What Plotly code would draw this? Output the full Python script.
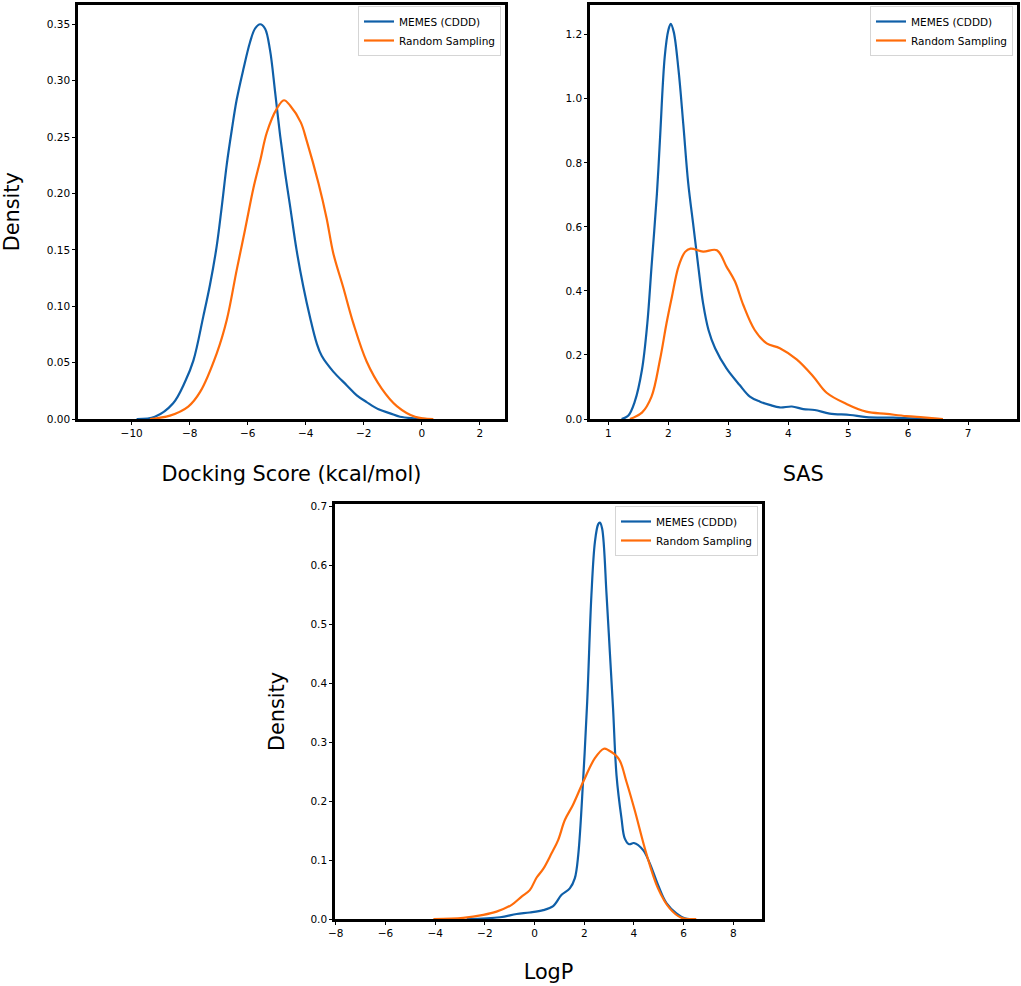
import plotly.graph_objects as go

W, H = 1021, 986
FONT = "DejaVu Sans"
BLUE = "#0f5fa8"
ORANGE = "#ff6c0a"
SERIES = ["MEMES (CDDD)", "Random Sampling"]

dock_blue_x = [-9.83,-9.2,-8.57,-8.16,-7.87,-7.53,-7.3,-7.07,-6.9,-6.72,-6.55,-6.38,-6.15,-5.92,-5.75,-5.57,-5.4,-5.23,-5.06,-4.89,-4.71,-4.54,-4.31,-4.08,-3.85,-3.62,-3.45,-3.05,-2.59,-2.24,-1.9,-1.49,-1.09,-0.75,-0.29,0.17]
dock_blue_y = [0,0.002,0.014,0.033,0.052,0.091,0.119,0.153,0.187,0.226,0.256,0.283,0.31,0.334,0.346,0.35,0.346,0.327,0.291,0.253,0.218,0.189,0.149,0.117,0.09,0.067,0.056,0.042,0.03,0.021,0.015,0.0086,0.005,0.002,0.0006,0]
dock_orange_x = [-9.37,-8.68,-8.05,-7.64,-7.07,-6.72,-6.38,-6.09,-5.8,-5.57,-5.34,-5.0,-4.75,-4.54,-4.17,-3.97,-3.56,-3.28,-3.05,-2.71,-2.36,-1.9,-1.38,-0.86,-0.23,0.4]
dock_orange_y = [0,0.003,0.011,0.024,0.058,0.088,0.132,0.168,0.205,0.229,0.254,0.275,0.2826,0.278,0.263,0.247,0.209,0.178,0.147,0.117,0.085,0.051,0.027,0.0115,0.002,0]

sas_blue_x = [1.22,1.33,1.44,1.56,1.65,1.72,1.81,1.86,1.94,2.0,2.04,2.09,2.17,2.25,2.33,2.42,2.5,2.58,2.67,2.78,2.97,3.19,3.36,3.53,3.69,3.86,4.06,4.25,4.44,4.69,5.03,5.3,5.75,6.19,6.53]
sas_blue_y = [0,0.01,0.054,0.153,0.299,0.476,0.704,0.87,1.131,1.214,1.234,1.209,1.09,0.92,0.74,0.6,0.476,0.361,0.278,0.221,0.158,0.106,0.07,0.054,0.044,0.036,0.039,0.031,0.028,0.017,0.0125,0.006,0.004,0.001,0]
sas_orange_x = [1.36,1.56,1.72,1.86,1.97,2.06,2.17,2.28,2.37,2.58,2.81,2.97,3.11,3.25,3.44,3.64,3.86,4.14,4.42,4.64,4.97,5.3,5.64,5.97,6.25,6.58]
sas_orange_y = [0,0.02,0.07,0.184,0.299,0.382,0.476,0.522,0.532,0.523,0.527,0.476,0.43,0.356,0.278,0.236,0.221,0.186,0.132,0.082,0.047,0.023,0.016,0.009,0.005,0]

logp_blue_x = [-2.73,-1.39,-0.72,-0.19,0.35,0.75,1.09,1.42,1.62,1.76,1.96,2.12,2.29,2.43,2.56,2.63,2.72,2.9,3.03,3.16,3.3,3.5,3.63,3.81,4.0,4.37,4.64,4.97,5.31,5.71,6.05,6.3]
logp_blue_y = [0,0.003,0.0085,0.011,0.015,0.022,0.041,0.052,0.069,0.109,0.239,0.369,0.55,0.64,0.67,0.673,0.663,0.55,0.454,0.358,0.244,0.171,0.137,0.127,0.129,0.117,0.0945,0.058,0.027,0.0096,0.001,0]
logp_orange_x = [-4.07,-2.87,-2.06,-1.53,-0.92,-0.52,-0.19,0.08,0.35,0.68,0.95,1.22,1.55,1.96,2.43,2.79,2.96,3.39,3.7,4.03,4.5,4.97,5.44,5.91,6.51]
logp_orange_y = [0,0.002,0.007,0.0125,0.024,0.038,0.049,0.07,0.085,0.111,0.134,0.168,0.194,0.233,0.273,0.289,0.287,0.272,0.233,0.185,0.111,0.052,0.018,0.002,0]

dock_ticks_x = [-10,-8,-6,-4,-2,0,2]
dock_ticks_y = [0,0.05,0.10,0.15,0.20,0.25,0.30,0.35]
sas_ticks_x = [1,2,3,4,5,6,7]
sas_ticks_y = [0,0.2,0.4,0.6,0.8,1.0,1.2]
logp_ticks_x = [-8,-6,-4,-2,0,2,4,6,8]
logp_ticks_y = [0,0.1,0.2,0.3,0.4,0.5,0.6,0.7]

panels = [
    dict(s="", box=(78,505,4.5,419), xr=[-11.85,2.87], yr=[0,0.3675], xt=dock_ticks_x, yt=dock_ticks_y, fmt=".2f",
         xtitle="Docking Score (kcal/mol)", ytitle="Density", xs=29, ys=27,
         blue=(dock_blue_x,dock_blue_y), orange=(dock_orange_x,dock_orange_y), leg=(358,6)),
    dict(s="2", box=(590,1016.5,4.5,419), xr=[0.694,7.806], yr=[0,1.2945], xt=sas_ticks_x, yt=sas_ticks_y, fmt=".1f",
         xtitle="SAS", ytitle="", xs=29, ys=25,
         blue=(sas_blue_x,sas_blue_y), orange=(sas_orange_x,sas_orange_y), leg=(870,6)),
    dict(s="3", box=(335,762,504,919), xr=[-8.03,9.155], yr=[0,0.7046], xt=logp_ticks_x, yt=logp_ticks_y, fmt=".1f",
         xtitle="LogP", ytitle="Density", xs=27, ys=21,
         blue=(logp_blue_x,logp_blue_y), orange=(logp_orange_x,logp_orange_y), leg=(615,506)),
]

fig = go.Figure()
layout = dict(width=W, height=H, autosize=False, margin=dict(l=0,r=0,t=0,b=0),
              paper_bgcolor="white", plot_bgcolor="white", font=dict(family=FONT, color="black"))
for p in panels:
    s = p["s"]
    xa, ya = "x"+s, "y"+s
    leg = "legend"+s
    for name, key, col in zip(SERIES, ("blue","orange"), (BLUE, ORANGE)):
        fig.add_trace(go.Scatter(x=p[key][0], y=p[key][1], mode="lines", name=name,
                                 line=dict(color=col, width=2.2, shape="spline", smoothing=1.0),
                                 xaxis=xa, yaxis=ya, legend=leg))
    x0,x1,y0,y1 = p["box"]
    common = dict(showgrid=False, zeroline=False, showline=True, mirror=True, linecolor="black", linewidth=2.5,
                  ticks="outside", ticklen=3, tickwidth=1, tickcolor="black", tickfont=dict(size=10.5, family=FONT),
                  tickmode="array", automargin=False)
    layout["xaxis"+s] = dict(common, domain=[x0/W,x1/W], range=p["xr"], anchor=ya, tickvals=p["xt"],
                             ticktext=[str(v).replace("-","\u2212") for v in p["xt"]],
                             title=dict(text=p["xtitle"], font=dict(size=20.8, family=FONT), standoff=p["xs"]))
    layout["yaxis"+s] = dict(common, domain=[1-y1/H,1-y0/H], range=p["yr"], anchor=xa, tickvals=p["yt"],
                             ticktext=[format(v,p["fmt"]) for v in p["yt"]],
                             title=dict(text=p["ytitle"], font=dict(size=20.8, family=FONT), standoff=p["ys"]))
    layout[leg] = dict(x=p["leg"][0]/W, y=1-p["leg"][1]/H, xanchor="left", yanchor="top",
                       bgcolor="rgba(255,255,255,0.8)", bordercolor="#d5d5d5", borderwidth=1,
                       font=dict(size=10.5, family=FONT), itemwidth=30, tracegroupgap=0)
fig.update_layout(**layout)
fig.write_html("out.html", config=dict(displayModeBar=False),
               post_script="document.body.style.margin='0';document.documentElement.style.overflow='hidden';")
